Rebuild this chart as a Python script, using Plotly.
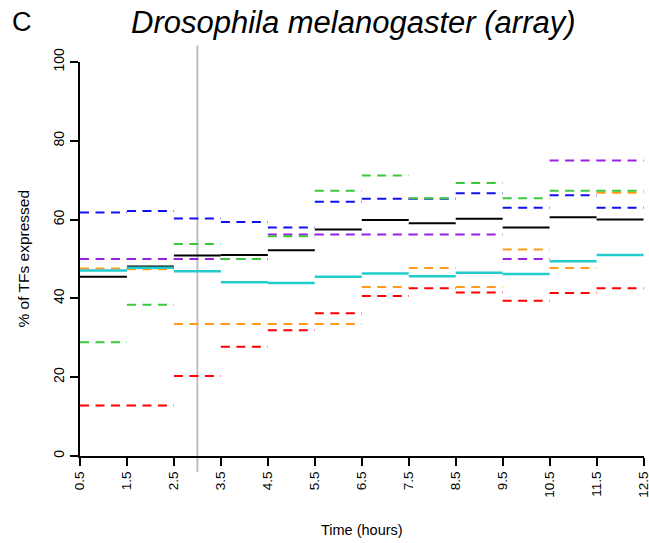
import plotly.graph_objects as go

# interval boundaries (hours)
starts = [0.5, 1.5, 2.5, 3.5, 4.5, 5.5, 6.5, 7.5, 8.5, 9.5, 10.5, 11.5]
ends = [1.5, 2.5, 3.5, 4.5, 5.5, 6.5, 7.5, 8.5, 9.5, 10.5, 11.5, 12.5]
tick_vals = [0.5, 1.5, 2.5, 3.5, 4.5, 5.5, 6.5, 7.5, 8.5, 9.5, 10.5, 11.5, 12.5]
tick_text = ["0.5", "1.5", "2.5", "3.5", "4.5", "5.5", "6.5", "7.5", "8.5", "9.5", "10.5", "11.5", "12.5"]

red = [12.8, 12.8, 20.3, 27.7, 31.9, 36.2, 40.6, 42.6, 41.5, 39.4, 41.4, 42.6]
orange = [47.6, 47.4, 33.5, 33.5, 33.5, 33.5, 42.9, 47.7, 42.9, 52.4, 47.7, 66.8]
blue = [61.8, 62.2, 60.3, 59.4, 58.0, 64.5, 65.3, 65.3, 66.7, 63.0, 66.2, 63.0]
purple = [50.0, 50.0, 50.0, 50.0, 56.2, 56.2, 56.2, 56.2, 56.2, 50.0, 75.0, 75.0]
green = [28.9, 38.4, 53.8, 50.0, 55.8, 67.3, 71.2, 65.4, 69.3, 65.4, 67.3, 67.3]
black = [45.5, 48.1, 50.9, 51.0, 52.2, 57.5, 59.9, 59.1, 60.2, 58.0, 60.6, 60.0]
cyan = [47.1, 47.8, 46.9, 44.1, 43.9, 45.5, 46.3, 45.6, 46.5, 46.2, 49.4, 51.0]

marker_time = 3.0


def steps(vals):
    xs, ys = [], []
    for s, e, v in zip(starts, ends, vals):
        xs += [s, e, None]
        ys += [v, v, None]
    return xs, ys


fig = go.Figure()
series = [
    (red, "#FF0000", "9px,6.5px", 2),
    (orange, "#FF9A1A", "9px,6.5px", 2),
    (blue, "#1010F0", "9px,6.5px", 2),
    (purple, "#9A20E0", "9px,6.5px", 2),
    (green, "#3CC83C", "9px,6.5px", 2),
    (black, "#000000", "solid", 2),
    (cyan, "#22CCCC", "solid", 2.5),
]
for vals, col, dash, w in series:
    xs, ys = steps(vals)
    fig.add_trace(go.Scatter(x=xs, y=ys, mode="lines", line=dict(color=col, width=w, dash=dash),
                             showlegend=False, hoverinfo="skip", cliponaxis=False))

fig.add_shape(type="line", xref="x", yref="paper", x0=marker_time, x1=marker_time,
              y0=-0.04, y1=1.042, line=dict(color="#BEBEBE", width=2), layer="below")

font = "Liberation Sans, Arial, sans-serif"
fig.update_layout(
    width=649, height=543,
    margin=dict(l=79.5, r=5, t=61.5, b=87, autoexpand=False),
    paper_bgcolor="white", plot_bgcolor="white",
    font=dict(family=font, color="black", size=14),
    xaxis=dict(range=[0.5, 12.51], tickvals=tick_vals, ticktext=tick_text, tickangle=-90,
               showline=True, linecolor="black", linewidth=2, ticks="outside", ticklen=8,
               tickwidth=2, tickcolor="black", showgrid=False, zeroline=False, automargin=False,
               ticklabeloverflow="allow", tickfont=dict(size=13.5)),
    yaxis=dict(range=[0, 100], tickvals=[0, 20, 40, 60, 80, 100], tickangle=-90,
               showline=True, linecolor="black", linewidth=2, ticks="outside", ticklen=8,
               tickwidth=2, tickcolor="black", showgrid=False, zeroline=False, automargin=False,
               ticklabeloverflow="allow", tickfont=dict(size=14)),
    annotations=[
        dict(text="<i>Drosophila melanogaster (array)</i>", xref="paper", yref="paper",
             x=0.485, y=1.0, yshift=40, showarrow=False, font=dict(size=31), xanchor="center", yanchor="middle"),
        dict(text="C", xref="paper", yref="paper", x=0, xshift=-58, y=1.0, yshift=40,
             showarrow=False, font=dict(size=27), xanchor="center", yanchor="middle"),
        dict(text="Time (hours)", xref="paper", yref="paper", x=0.5, y=0, yshift=-74,
             showarrow=False, font=dict(size=14.5), xanchor="center", yanchor="middle"),
        dict(text="% of TFs expressed", xref="paper", yref="paper", x=0, xshift=-57.5, y=0.5,
             textangle=-90, showarrow=False, font=dict(size=15.5), xanchor="center", yanchor="middle"),
    ],
)

fig.write_html("out.html")
